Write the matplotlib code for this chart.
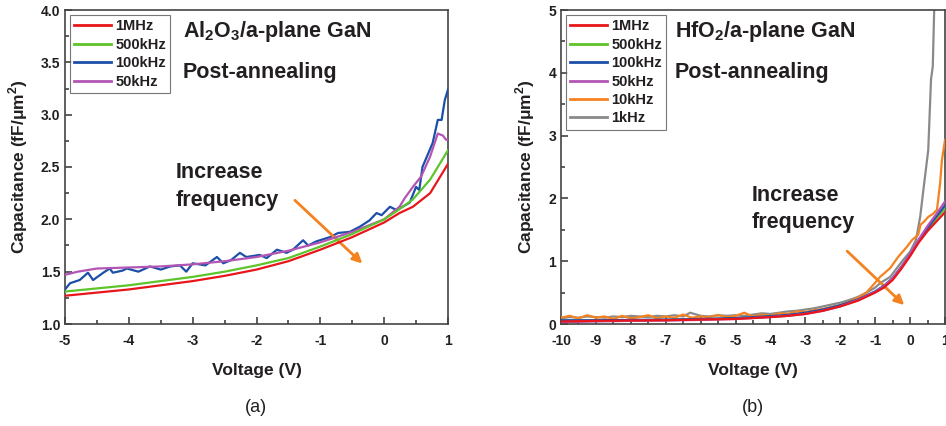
import matplotlib
matplotlib.use("Agg")
import matplotlib.pyplot as plt
from matplotlib.ticker import MultipleLocator

plt.rcParams['font.family'] = ['Liberation Sans', 'DejaVu Sans']
plt.rcParams['axes.unicode_minus'] = False
plt.rcParams['mathtext.fontset'] = 'custom'
plt.rcParams['mathtext.bf'] = 'Liberation Sans:bold'
plt.rcParams['mathtext.rm'] = 'Liberation Sans'

# ---------------- Panel (a): Al2O3 ----------------
va_red = [-5, -4.5, -4, -3.5, -3, -2.5, -2, -1.5, -1, -0.5, 0, 0.24, 0.45, 0.72, 1.0]
ca_red = [1.27, 1.30, 1.33, 1.37, 1.41, 1.46, 1.52, 1.60, 1.71, 1.83, 1.97, 2.06, 2.12, 2.25, 2.53]

va_green = [-5, -4.5, -4, -3.5, -3, -2.5, -2, -1.5, -1, -0.5, 0, 0.2, 0.45, 0.72, 1.0]
ca_green = [1.31, 1.34, 1.37, 1.41, 1.45, 1.50, 1.56, 1.63, 1.74, 1.86, 2.00, 2.08, 2.19, 2.38, 2.66]

va_blue = [-5.0, -4.92, -4.77, -4.64, -4.56, -4.4, -4.3, -4.25, -4.1, -4.03, -3.85, -3.67, -3.5, -3.35,
           -3.2, -3.1, -3.0, -2.8, -2.62, -2.52, -2.4, -2.26, -2.16, -1.95, -1.84, -1.68, -1.53,
           -1.43, -1.27, -1.19, -1.06, -0.85, -0.72, -0.54, -0.38, -0.23, -0.12, -0.04, 0.09,
           0.19, 0.29, 0.4, 0.5, 0.55, 0.6, 0.76, 0.84, 0.9, 0.95, 1.0]
ca_blue = [1.33, 1.39, 1.42, 1.49, 1.42, 1.49, 1.53, 1.49, 1.51, 1.53, 1.50, 1.55, 1.52, 1.55,
           1.56, 1.50, 1.58, 1.56, 1.64, 1.58, 1.61, 1.68, 1.64, 1.66, 1.63, 1.71, 1.68,
           1.71, 1.80, 1.75, 1.79, 1.83, 1.87, 1.88, 1.93, 1.99, 2.06, 2.04, 2.12,
           2.09, 2.12, 2.16, 2.31, 2.28, 2.50, 2.73, 2.95, 2.95, 3.14, 3.24]

va_mag = [-5, -4.8, -4.5, -4, -3.5, -3, -2.5, -2, -1.5, -1, -0.5, 0, 0.24, 0.32, 0.45, 0.58, 0.72,
          0.84, 0.92, 0.97, 1.0]
ca_mag = [1.47, 1.50, 1.53, 1.54, 1.55, 1.57, 1.60, 1.64, 1.70, 1.78, 1.88, 2.00, 2.12, 2.20, 2.31,
          2.41, 2.60, 2.82, 2.80, 2.76, 2.76]

# ---------------- Panel (b): HfO2 ----------------
vb = [-10, -9, -8, -7, -6, -5, -4, -3.5, -3, -2.5, -2, -1.5, -1, -0.75, -0.5, -0.25, 0, 0.25, 0.5, 0.75, 1]
cb_red = [0.04, 0.05, 0.055, 0.06, 0.07, 0.08, 0.11, 0.13, 0.16, 0.21, 0.28, 0.37, 0.50, 0.58, 0.70,
          0.88, 1.08, 1.30, 1.48, 1.63, 1.78]
cb_green = [0.05, 0.055, 0.06, 0.065, 0.075, 0.09, 0.12, 0.14, 0.17, 0.22, 0.29, 0.38, 0.51, 0.60,
            0.72, 0.90, 1.10, 1.32, 1.51, 1.68, 1.84]
cb_blue = [0.06, 0.06, 0.065, 0.07, 0.08, 0.095, 0.125, 0.145, 0.18, 0.23, 0.30, 0.39, 0.52, 0.61,
           0.73, 0.91, 1.11, 1.33, 1.53, 1.71, 1.89]
cb_mag = [0.03, 0.04, 0.05, 0.055, 0.065, 0.08, 0.11, 0.13, 0.16, 0.21, 0.28, 0.38, 0.51, 0.60,
          0.73, 0.91, 1.12, 1.35, 1.56, 1.75, 1.95]

vb_orange = [-10, -9.75, -9.5, -9.25, -9, -8.75, -8.5, -8.25, -8, -7.75, -7.5, -7.25, -7, -6.75,
             -6.5, -6.25, -6, -5.75, -5.5, -5.25, -5, -4.75, -4.5, -4.25, -4, -3.75, -3.5, -3.25,
             -3, -2.75, -2.5, -2.25, -2, -1.75, -1.5, -1.25, -1.06, -0.86, -0.57, -0.34, -0.09,
             0.06, 0.23, 0.3, 0.38, 0.53, 0.65, 0.77, 0.86, 0.91, 1.0]
cb_orange = [0.10, 0.13, 0.09, 0.14, 0.10, 0.12, 0.08, 0.13, 0.09, 0.11, 0.14, 0.09, 0.12, 0.10,
             0.15, 0.10, 0.12, 0.11, 0.14, 0.11, 0.13, 0.18, 0.12, 0.15, 0.13, 0.17, 0.16, 0.20,
             0.19, 0.22, 0.24, 0.27, 0.30, 0.35, 0.42, 0.50, 0.62, 0.75, 0.89, 1.07, 1.23,
             1.34, 1.42, 1.58, 1.62, 1.71, 1.75, 1.82, 2.24, 2.60, 2.93]

vb_gray = [-10, -9.75, -9.5, -9.25, -9, -8.75, -8.5, -8.25, -8, -7.75, -7.5, -7.25, -7, -6.75,
           -6.5, -6.3, -6, -5.75, -5.5, -5.25, -5, -4.75, -4.5, -4.25, -4, -3.75, -3.5, -3.25,
           -3, -2.75, -2.5, -2.25, -2, -1.75, -1.5, -1.25, -1, -0.86, -0.57, -0.2, 0, 0.17,
           0.29, 0.38, 0.52, 0.6, 0.65, 0.69, 0.72]
cb_gray = [0.09, 0.11, 0.10, 0.12, 0.11, 0.10, 0.12, 0.11, 0.13, 0.12, 0.11, 0.13, 0.12, 0.14,
           0.12, 0.18, 0.13, 0.12, 0.14, 0.13, 0.14, 0.13, 0.15, 0.17, 0.16, 0.18, 0.20, 0.21,
           0.23, 0.25, 0.28, 0.31, 0.34, 0.38, 0.43, 0.50, 0.58, 0.65, 0.75, 1.02, 1.15, 1.34,
           1.71, 2.13, 2.77, 3.90, 4.10, 5.00, 5.60]

labels_a = ['1MHz', '500kHz', '100kHz', '50kHz']
labels_b = ['1MHz', '500kHz', '100kHz', '50kHz', '10kHz', '1kHz']

C_RED = '#e8161b'
C_GREEN = '#5ec42b'
C_BLUE = '#1c4fa8'
C_MAG = '#b255b4'
C_ORANGE = '#f58220'
C_GRAY = '#8a8a8a'
C_TEXT = '#231f20'

fig = plt.figure(figsize=(9.46, 4.26), dpi=100)
axa = fig.add_axes([65/946, 1-324/426, 383/946, 314/426])
axb = fig.add_axes([561/946, 1-324/426, 384/946, 314/426])

lw = 1.6
axa.plot(va_red, ca_red, color=C_RED, lw=lw, label=labels_a[0], zorder=5)
axa.plot(va_green, ca_green, color=C_GREEN, lw=lw, label=labels_a[1], zorder=4)
axa.plot(va_blue, ca_blue, color=C_BLUE, lw=lw, label=labels_a[2], zorder=3)
axa.plot(va_mag, ca_mag, color=C_MAG, lw=lw, label=labels_a[3], zorder=3.5)

axb.plot(vb, cb_red, color=C_RED, lw=lw, label=labels_b[0], zorder=5)
axb.plot(vb, cb_green, color=C_GREEN, lw=lw, label=labels_b[1], zorder=4)
axb.plot(vb, cb_blue, color=C_BLUE, lw=lw, label=labels_b[2], zorder=4)
axb.plot(vb, cb_mag, color=C_MAG, lw=lw, label=labels_b[3], zorder=4.5)
axb.plot(vb_orange, cb_orange, color=C_ORANGE, lw=lw, label=labels_b[4], zorder=3)
axb.plot(vb_gray, cb_gray, color=C_GRAY, lw=lw, label=labels_b[5], zorder=2)

axa.set_xlim(-5, 1)
axa.set_ylim(1.0, 4.0)
axa.xaxis.set_major_locator(MultipleLocator(1))
axa.xaxis.set_minor_locator(MultipleLocator(0.5))
axa.yaxis.set_minor_locator(MultipleLocator(0.25))
axa.set_yticks([1.0, 1.5, 2.0, 2.5, 3.0, 3.5, 4.0])
axa.set_yticklabels(['1.0', '1.5', '2.0', '2.5', '3.0', '3.5', '4.0'])

axb.set_xlim(-10, 1)
axb.set_ylim(0, 5)
axb.xaxis.set_major_locator(MultipleLocator(1))
axb.xaxis.set_minor_locator(MultipleLocator(0.5))
axb.yaxis.set_major_locator(MultipleLocator(1))
axb.yaxis.set_minor_locator(MultipleLocator(0.5))

for ax in (axa, axb):
    for s in ax.spines.values():
        s.set_color('#444444')
        s.set_linewidth(1.2)
    ax.tick_params(which='both', direction='in', color='#333333', width=1.1,
                   labelsize=10, labelcolor=C_TEXT)
    ax.tick_params(which='major', length=5)
    ax.tick_params(which='minor', length=3)
    ax.tick_params(axis='x', which='major', pad=7)
    for lab in ax.get_xticklabels() + ax.get_yticklabels():
        lab.set_fontweight('bold')
    ax.set_xlabel('Voltage (V)', fontsize=12.5, fontweight='bold', labelpad=11, color=C_TEXT)
    ax.set_ylabel('Capacitance (fF/\u03bcm$^\\mathbf{2}$)', fontsize=12.5, fontweight='bold',
                  labelpad=8, color=C_TEXT)
    leg = ax.legend(loc='upper left', prop={'weight': 'bold', 'size': 10.5},
                    frameon=True, fancybox=False, handlelength=2.5, handletextpad=0.3,
                    labelspacing=0.3, borderpad=0.3, borderaxespad=0.35)
    leg.get_frame().set_edgecolor('#555555')
    leg.get_frame().set_linewidth(0.8)
    for t in leg.get_texts():
        t.set_color(C_TEXT)
    for h in leg.get_lines():
        h.set_linewidth(2.0)

title_kw = dict(fontsize=15.5, fontweight='bold', color=C_TEXT, va='center', ha='left')
axa.text(0.308, 0.93, 'Al$_\\mathbf{2}$O$_\\mathbf{3}$/a-plane GaN', transform=axa.transAxes, **title_kw)
axa.text(0.308, 0.80, 'Post-annealing', transform=axa.transAxes, **title_kw)
axa.text(-3.26, 2.45, 'Increase', **title_kw)
axa.text(-3.26, 2.18, 'frequency', **title_kw)
axa.annotate('', xy=(-0.31, 1.56), xytext=(-1.43, 2.2),
             arrowprops=dict(arrowstyle='-|>', color=C_ORANGE, lw=2.0, mutation_scale=14))

axb.text(0.297, 0.93, 'HfO$_\\mathbf{2}$/a-plane GaN', transform=axb.transAxes, **title_kw)
axb.text(0.297, 0.80, 'Post-annealing', transform=axb.transAxes, **title_kw)
axb.text(-4.53, 2.05, 'Increase', **title_kw)
axb.text(-4.53, 1.61, 'frequency', **title_kw)
axb.annotate('', xy=(-0.11, 0.27), xytext=(-1.86, 1.19),
             arrowprops=dict(arrowstyle='-|>', color=C_ORANGE, lw=2.0, mutation_scale=14))

fig.text(256/946, 1-407/426, '(a)', fontsize=13, ha='center', va='center', color=C_TEXT)
fig.text(753/946, 1-407/426, '(b)', fontsize=13, ha='center', va='center', color=C_TEXT)

fig.savefig('out.png', dpi=100)
